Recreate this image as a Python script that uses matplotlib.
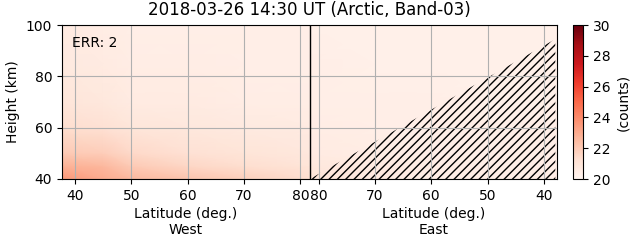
import matplotlib
matplotlib.use("Agg")
import matplotlib.pyplot as plt
import numpy as np

# heights (km) of the grid rows
heights = [40, 45, 50, 60, 70, 85, 100]

# west side: latitude columns and counts
west_lat = [37.7, 45, 50, 60, 70, 81.6]
west_counts = [
    [23.6, 23.0, 22.6, 22.2, 21.8, 21.3],
    [22.8, 22.6, 22.0, 21.6, 21.3, 21.0],
    [22.0, 21.9, 21.5, 21.2, 21.0, 20.8],
    [21.3, 21.2, 20.9, 20.8, 20.7, 20.6],
    [20.9, 20.8, 20.6, 20.6, 20.5, 20.5],
    [20.7, 20.6, 20.5, 20.5, 20.4, 20.4],
    [20.6, 20.5, 20.4, 20.4, 20.4, 20.4],
]

# east side: latitude columns and counts
east_lat = [81.6, 70, 60, 50, 37.7]
east_counts = [
    [21.0, 20.7, 20.5, 20.5, 20.5],
    [20.8, 20.6, 20.5, 20.4, 20.4],
    [20.6, 20.5, 20.4, 20.4, 20.4],
    [20.5, 20.4, 20.4, 20.4, 20.4],
    [20.4, 20.4, 20.4, 20.3, 20.3],
    [20.4, 20.3, 20.3, 20.3, 20.3],
    [20.3, 20.3, 20.3, 20.3, 20.3],
]

# top of the hatched (invalid) region on the east side
hatch_lat = [81.5, 78, 74, 70, 66, 62, 58, 54, 50, 46, 42, 38]
hatch_top = [40, 44.5, 49.5, 54.5, 59.5, 64.5, 69.5, 74.5, 79.5, 84.5, 89.5, 94.5]

lat_ticks = [40, 50, 60, 70, 80]
lat_min, lat_div = 37.7, 81.6


def east_x(lat):
    # east half is mirrored to the right of the divider
    return 2 * lat_div - np.asarray(lat, dtype=float)


fig = plt.figure(figsize=(6.31, 2.43), dpi=100)
ax = fig.add_axes([62 / 631, 1 - 179 / 243, 495 / 631, 154 / 243])
cax = fig.add_axes([573 / 631, 1 - 179 / 243, 10 / 631, 154 / 243])

mesh = ax.pcolormesh(west_lat, heights, west_counts, cmap="Reds",
                     vmin=20, vmax=30, shading="gouraud")
ax.pcolormesh(east_x(east_lat), heights, east_counts, cmap="Reds",
              vmin=20, vmax=30, shading="gouraud")

ax.fill_between(east_x(hatch_lat), 40, hatch_top,
                facecolor="none", edgecolor="k", hatch="////", linewidth=0)

ax.axvline(lat_div, color="k", lw=1)

ax.set_xlim(lat_min, east_x(lat_min))
ax.set_ylim(40, 100)
xt = list(lat_ticks) + list(east_x(lat_ticks[::-1]))
ax.set_xticks(xt)
ax.set_xticklabels([str(t) for t in lat_ticks] + [str(t) for t in lat_ticks[::-1]])
ax.set_yticks([40, 60, 80, 100])
ax.grid(True)
ax.set_ylabel("Height (km)")
ax.set_title("2018-03-26 14:30 UT (Arctic, Band-03)", pad=7)
ax.text(0.02, 0.93, "ERR: 2", transform=ax.transAxes, va="top", ha="left")

for xc, side in [((lat_min + lat_div) / 2, "West"),
                 (east_x((lat_min + lat_div) / 2), "East")]:
    ax.annotate("Latitude (deg.)\n" + side, xy=(xc, 0),
                xycoords=("data", "axes fraction"), xytext=(0, -20),
                textcoords="offset points", ha="center", va="top")

cb = fig.colorbar(mesh, cax=cax)
cb.set_ticks([20, 22, 24, 26, 28, 30])
cb.set_label("(counts)")

fig.savefig("out.png", dpi=100)
